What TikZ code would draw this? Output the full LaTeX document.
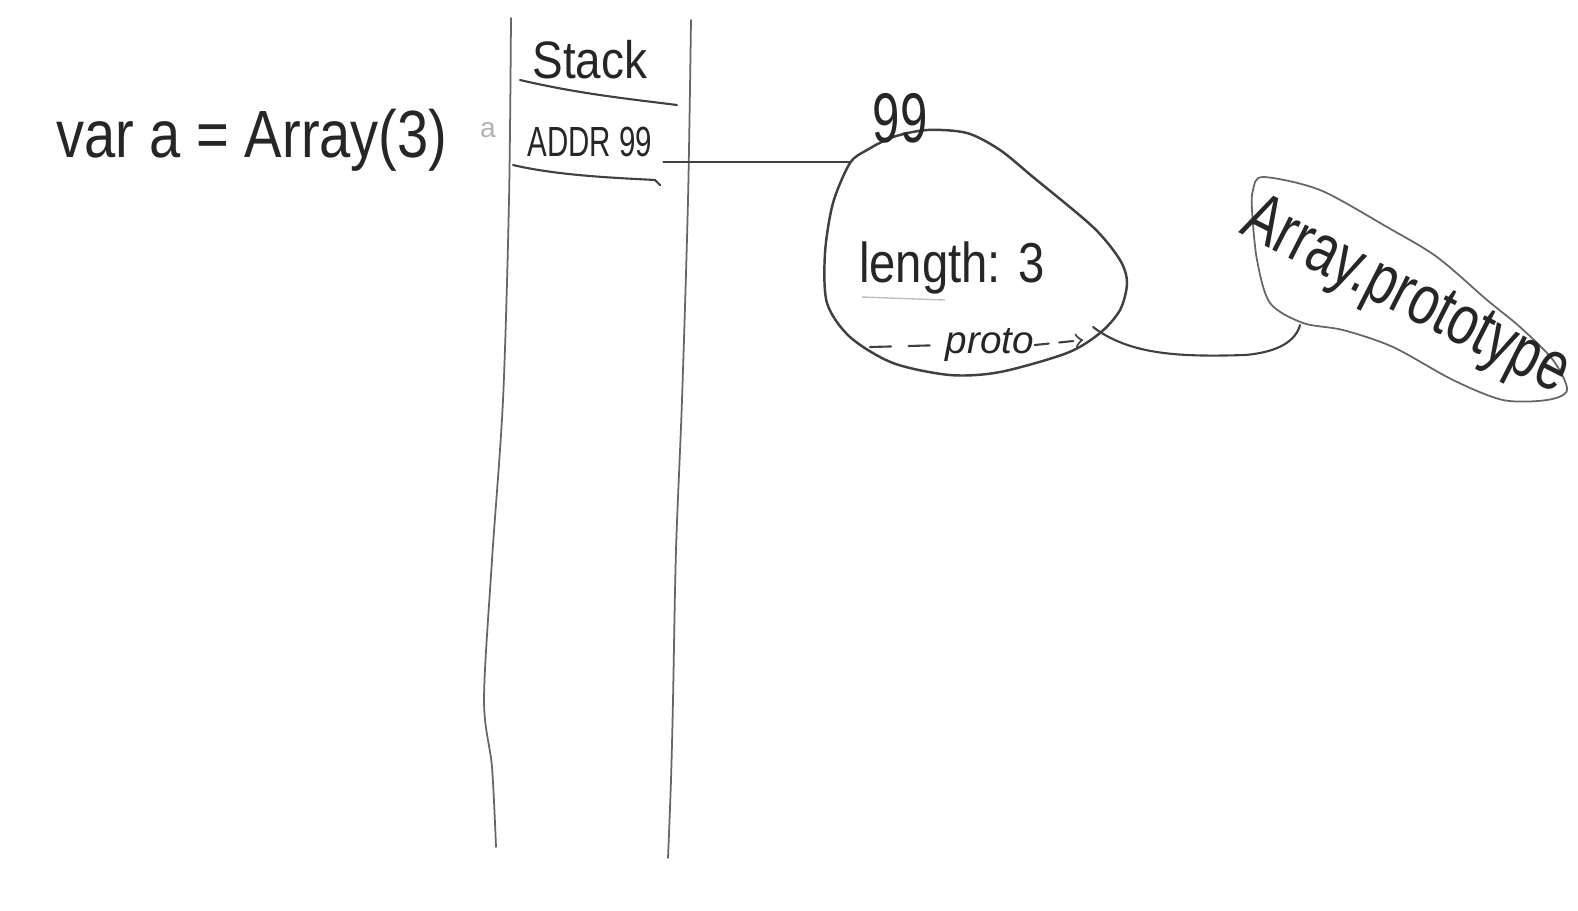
\documentclass[tikz,border=0pt]{standalone}
\usepackage{fontspec}
\setmainfont{Liberation Sans}
\usetikzlibrary{calc,positioning}

\begin{document}
\begin{tikzpicture}[x=0.1mm,y=-0.1mm,
    pen/.style={line width=0.6pt,draw=black!75,line cap=round},
    wall/.style={line width=0.5pt,draw=black!60,line cap=round},
    hand/.style={text=black!85,inner sep=0pt}]
    \useasboundingbox (0,0) rectangle (1578,910);

    % Code line.
    \node[hand,xscale=0.84,font=\fontsize{19}{22}\selectfont] (code) at (252,140) {var a = Array(3)};
    \node[hand,text=black!30,font=\fontsize{8}{9}\selectfont] (aname) at (488,130) {a};

    % Stack column.
    \draw[wall] plot[smooth] coordinates {(511,18) (509,200) (503,400) (492,560) (484,700) (492,767) (496,847)};
    \draw[wall] plot[smooth] coordinates {(691,20) (688,200) (682,400) (676,550) (673,700) (671,780) (668,858)};
    \node[hand,xscale=0.87,font=\fontsize{15}{18}\selectfont] (stack) at (590,60) {Stack};
    \draw[pen] (520,80) .. controls (580,94) and (630,99) .. (677,105);
    \node[hand,xscale=0.7,font=\fontsize{12}{14}\selectfont] (addr) at (590,142) {ADDR 99};
    \draw[pen] (513,165) .. controls (560,176) and (620,178) .. (655,180) -- (660,185);

    % Heap object at 99.
    \draw[pen,line width=0.7pt] plot[smooth cycle] coordinates {(867,150) (893,137) (927,130) (967,133) (1000,150) (1033,177) (1093,227) (1120,260) (1127,283) (1120,310) (1100,333) (1067,353) (1000,372) (950,375) (893,363) (850,337) (827,303) (825,253) (833,203) (850,163)};
    \node[hand,xscale=0.7,font=\fontsize{20}{22}\selectfont] (objaddr) at (900,118) {99};
    \node[hand,xscale=0.84,font=\fontsize{16}{18}\selectfont] (len) at (952,268) {length: 3};
    \draw[black!25] (862,297) -- (945,300);
    \node[hand,font=\itshape\fontsize{11}{13}\selectfont] (protokey) at (990,345) {proto};
    \coordinate (objin) at (850,162);
    \coordinate (objout) at (1093,327);
    \draw[pen,dash pattern=on 6pt off 5pt] (870,347) -- (protokey.west);
    \draw[pen,dash pattern=on 4pt off 3pt,->] (protokey.east) -- (1083,340);

    % Pointer from the stack.
    \draw[pen] ([xshift=3pt]addr.east |- objin) -- (objin);

    % Array.prototype.
    \draw[wall] plot[smooth cycle] coordinates {(1263,177) (1320,190) (1387,227) (1437,257) (1487,300) (1520,327) (1553,360) (1567,390) (1547,400) (1503,400) (1453,380) (1393,347) (1343,330) (1303,323) (1270,303) (1257,260) (1252,210) (1253,190)};
    \node[hand,rotate=-27,xscale=0.75,font=\fontsize{20}{22}\selectfont] (proto) at (1405,298) {Array.prototype};
    \coordinate (protoin) at (1300,325);
    \draw[pen] (objout) .. controls (1130,355) and (1180,357) .. (1245,355) .. controls (1280,352) and (1296,340) .. (protoin);

\end{tikzpicture}
\end{document}
